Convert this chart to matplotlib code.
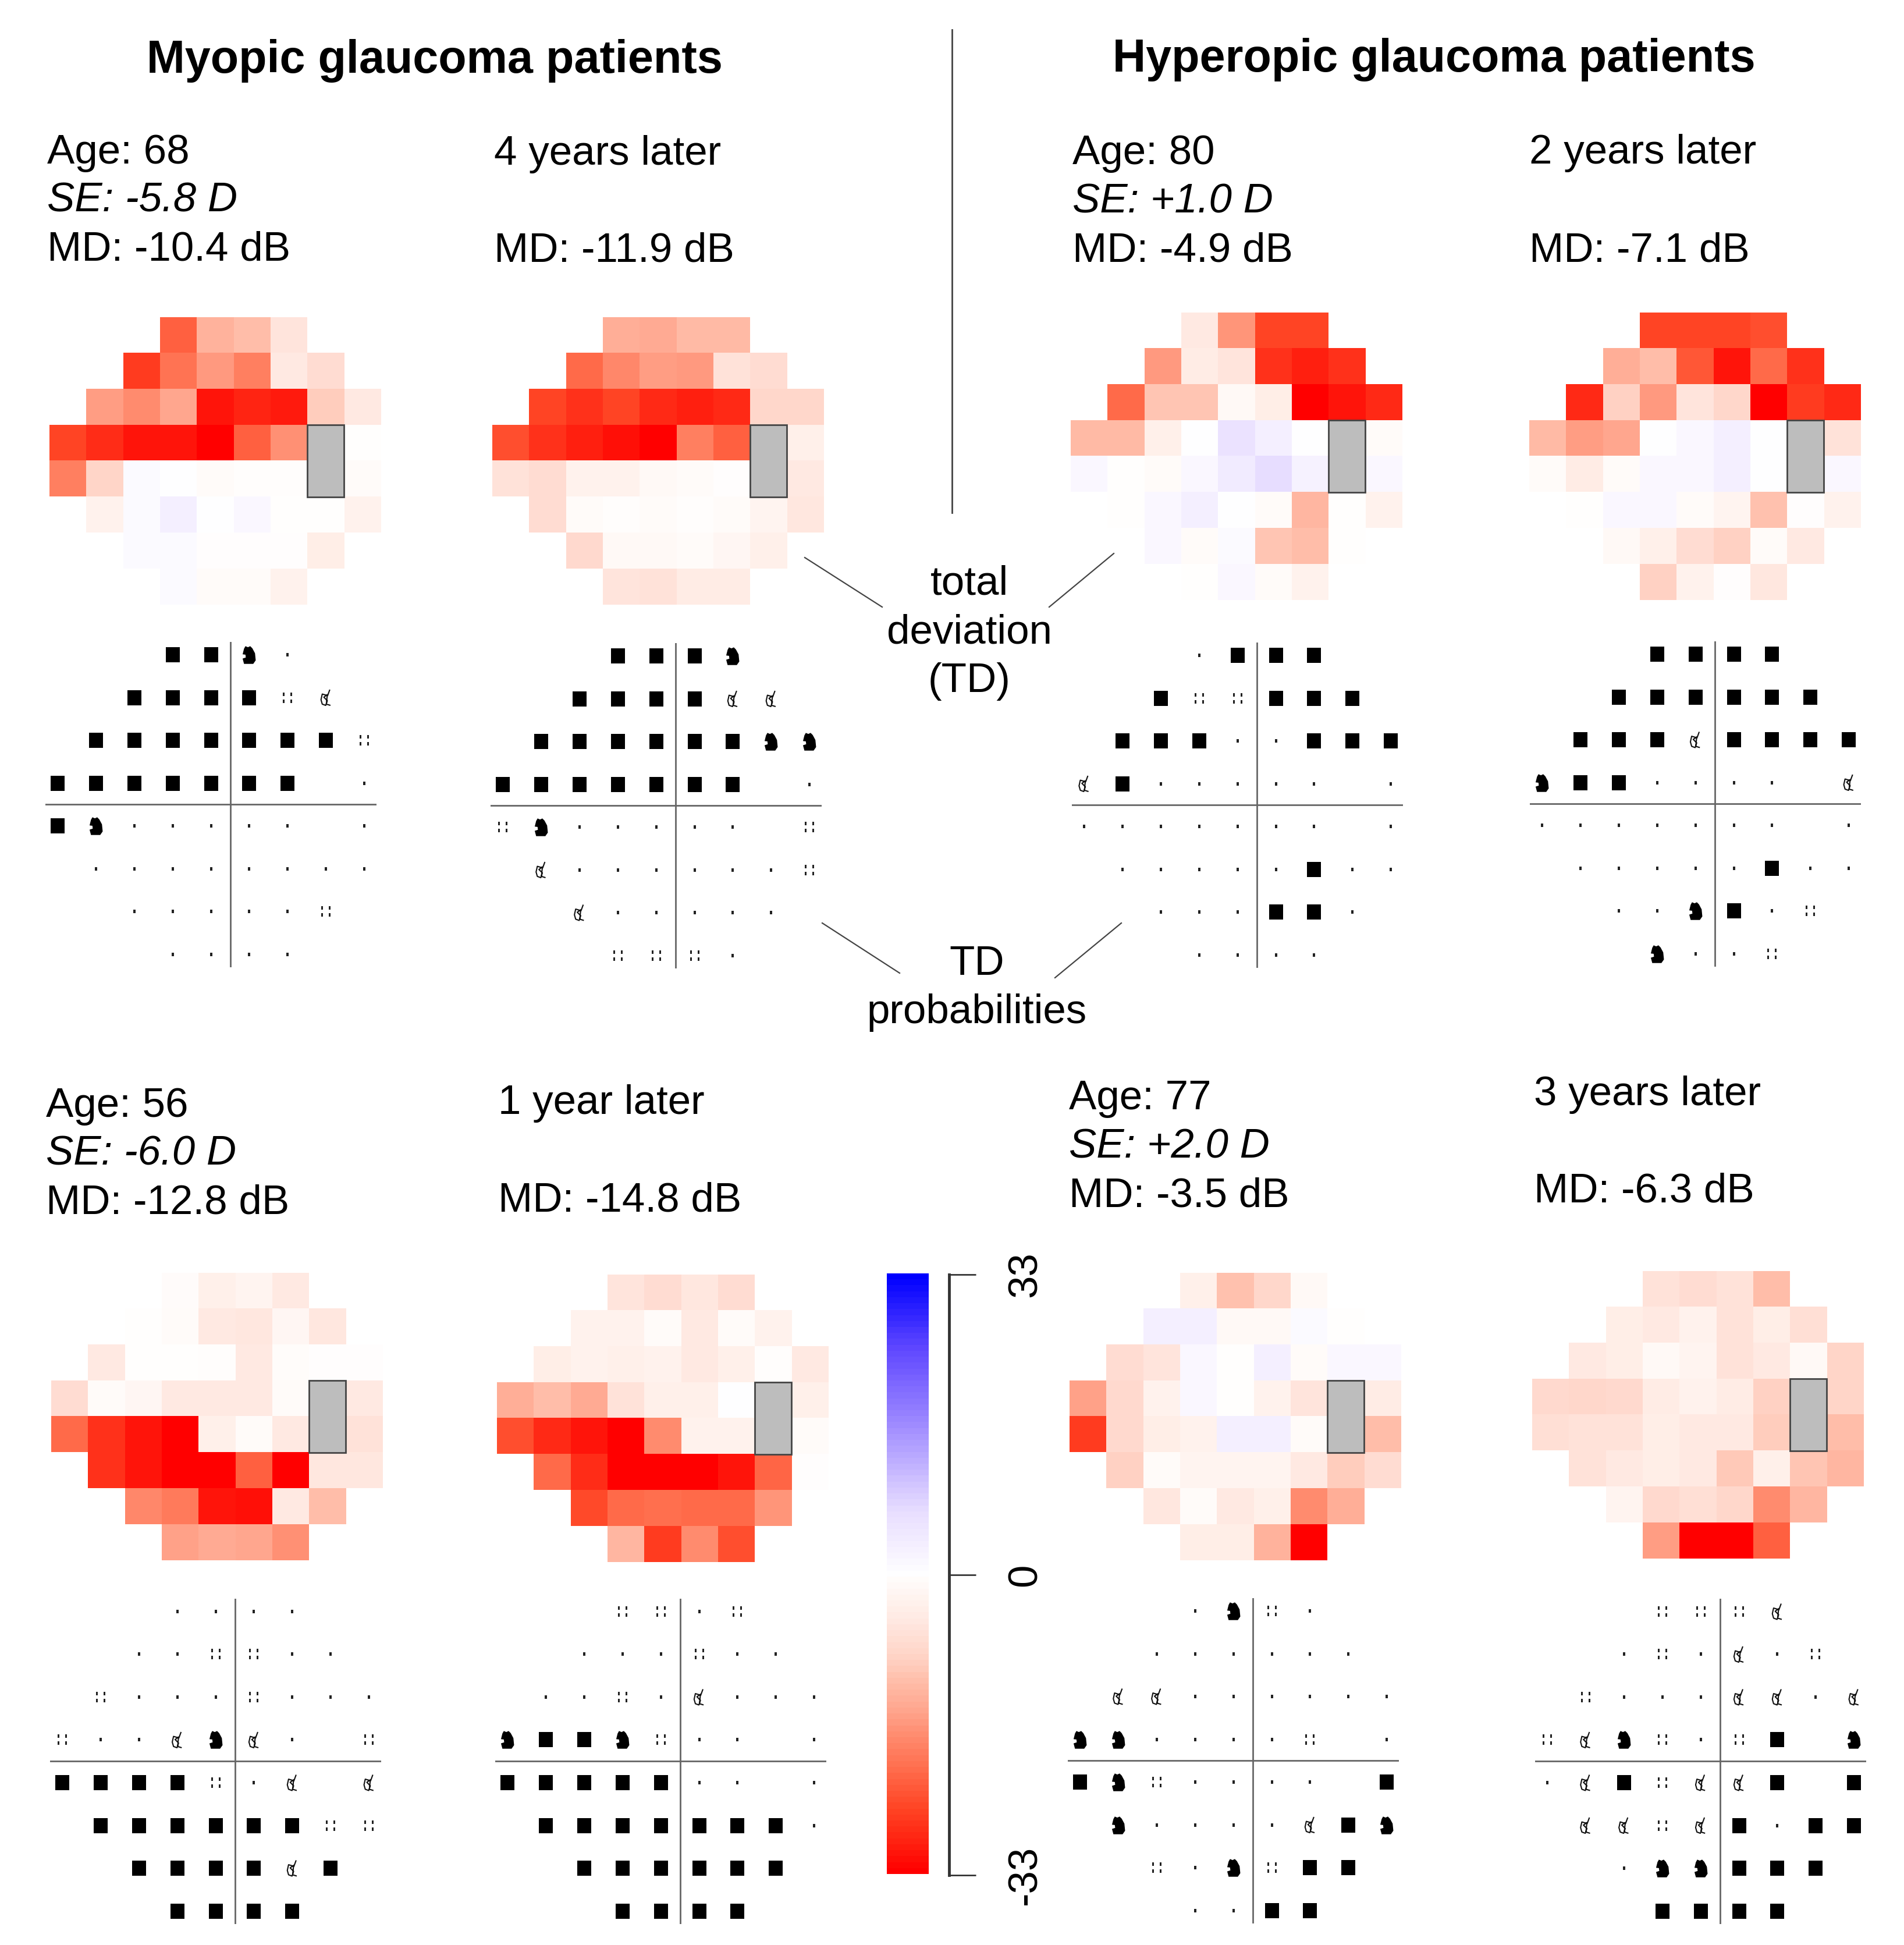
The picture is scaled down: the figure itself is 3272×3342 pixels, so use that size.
import numpy as np
import matplotlib
matplotlib.use("Agg")
import matplotlib.pyplot as plt
from matplotlib.colors import LinearSegmentedColormap
from matplotlib.lines import Line2D
from matplotlib.patches import Rectangle
from matplotlib.path import Path

plt.rcParams["font.family"] = ["Liberation Sans", "DejaVu Sans"]

W, H = 3272, 3342

# which columns of the 24-2 grid exist on each row
row_cols = [
    [3, 4, 5, 6],
    [2, 3, 4, 5, 6, 7],
    [1, 2, 3, 4, 5, 6, 7, 8],
    [0, 1, 2, 3, 4, 5, 6, 8],
    [0, 1, 2, 3, 4, 5, 6, 8],
    [1, 2, 3, 4, 5, 6, 7, 8],
    [2, 3, 4, 5, 6, 7],
    [3, 4, 5, 6],
]

# total deviation (dB)
td_a1 = [[-23, -13.5, -12, -6],
         [-27, -21, -16.5, -19.5, -5, -7.5],
         [-16, -18, -15, -31, -29.5, -30.5, -10, -5],
         [-26, -28.5, -31, -31, -33, -23, -17.5, -0.2],
         [-19.5, -9, 1, 0, -1, -0.5, -0.5, -1],
         [-3, 1, 3, 0, 1.5, -0.2, -0.2, -3],
         [1, 1, -0.3, -0.3, -0.3, -4],
         [1, -1, -1, -3]]
td_a2 = [[-14, -14.5, -12.5, -12.5],
         [-22, -18.5, -16, -16.5, -6.5, -7.5],
         [-26, -28, -26, -29, -30, -29, -8.5, -8.5],
         [-25, -28, -30, -31.5, -33, -19.5, -23, -3.5],
         [-6.5, -7.5, -3, -3, -1.5, -1, -0.3, -5],
         [-7.5, -1, -0.5, -1, -0.5, -1, -2.5, -5.5],
         [-8, -1.5, -1.5, -1, -2, -3.5],
         [-6, -6.5, -4.5, -4.5]]
td_b1 = [[-5, -17, -26, -26],
         [-16.5, -4.5, -6, -28, -30, -28],
         [-22, -11, -11, -1.5, -4, -33, -31, -29],
         [-12.5, -12.5, -3.5, 0, 6, 3, 0, -1],
         [1.5, -0.2, -1, 1.5, 4, 7, 2.5, 1.5],
         [-0.2, 1.5, 3, 0, -1, -13, -0.2, -3],
         [1.5, -1, 1, -11, -12, -0.2],
         [-0.2, 1.5, -1, -3]]
td_b2 = [[-26, -26, -26, -25],
         [-14, -12, -24, -31, -22, -28],
         [-29, -9.5, -16.5, -6, -8.5, -33, -27, -29],
         [-12.5, -16, -15, 0, 1.5, 3, 0, -6.5],
         [-1, -4.5, -1, 1.5, 1.5, 3, 0, 1.5],
         [-0.2, 1.5, 1.5, -1, -2.5, -11.5, -0.3, -3],
         [-1.5, -3.5, -7.5, -9.5, -1, -5],
         [-9.5, -3, -0.3, -5.5]]
td_c1 = [[-0.8, -3.5, -2.5, -5],
         [-0.2, -1, -5, -5.5, -2, -5.5],
         [-5, -0.2, -0.2, -0.5, -5, -0.7, -0.3, -0.3],
         [-7.5, -1, -2, -5, -5, -5, -1, -5],
         [-22, -28, -31, -33, -3.5, -1, -5, -6.5],
         [-28, -31, -33, -33, -23, -33, -5.5, -5.5],
         [-18.5, -20, -31, -31.5, -5, -12],
         [-15.5, -14.5, -15, -17.5]]
td_c2 = [[-6, -7.5, -5.5, -7.5],
         [-3, -3, -1, -5, -1, -3],
         [-4, -3, -3.5, -3, -5, -3.5, -0.4, -5],
         [-14, -12, -14.5, -6.5, -3.5, -3.5, 0, -3.5],
         [-25, -29, -31, -33, -18, -3, -3, -1],
         [-22, -28.5, -33, -33, -33, -31, -22.5, -0.3],
         [-25.5, -22, -21.5, -22, -22, -17],
         [-13, -27, -18, -25]]
td_d1 = [[-3.5, -11.5, -8.5, -1.5],
         [3, 3, -1.5, -1.5, 1, -0.2],
         [-7.5, -6, 1.5, -0.2, 3, -1, 1.5, 1.5],
         [-15.5, -8, -3, 1.5, -0.2, -3, -6, -4.5],
         [-27, -8, -4, -3, 3, 3, -1, -12],
         [-9.5, -1, -2.5, -2.5, -2.5, -5, -10, -7.5],
         [-5.5, -1, -5, -3.5, -18, -14],
         [-4, -4, -13.5, -33]]
td_d2 = [[-6.5, -7.5, -6.5, -12],
         [-4, -5, -3, -6.5, -4, -7],
         [-5, -4, -1.5, -2.5, -6.5, -5, -1.5, -9],
         [-8, -8.5, -8, -4.5, -3, -4.5, -9.5, -9],
         [-7, -6.5, -6.5, -4, -5, -5, -10, -12],
         [-6.5, -5, -4, -5, -10.5, -3.5, -11, -13],
         [-2.5, -8, -7, -8.5, -18, -13],
         [-16, -33, -33, -23]]

# probability symbols: 0 dot, 1 four dots, 2 swirl, 3 blob, 4 square
pr_a1 = [[4, 4, 3, 0],
         [4, 4, 4, 4, 1, 2],
         [4, 4, 4, 4, 4, 4, 4, 1],
         [4, 4, 4, 4, 4, 4, 4, 0],
         [4, 3, 0, 0, 0, 0, 0, 0],
         [0, 0, 0, 0, 0, 0, 0, 0],
         [0, 0, 0, 0, 0, 1],
         [0, 0, 0, 0]]
pr_a2 = [[4, 4, 4, 3],
         [4, 4, 4, 4, 2, 2],
         [4, 4, 4, 4, 4, 4, 3, 3],
         [4, 4, 4, 4, 4, 4, 4, 0],
         [1, 3, 0, 0, 0, 0, 0, 1],
         [2, 0, 0, 0, 0, 0, 0, 1],
         [2, 0, 0, 0, 0, 0],
         [1, 1, 1, 0]]
pr_b1 = [[0, 4, 4, 4],
         [4, 1, 1, 4, 4, 4],
         [4, 4, 4, 0, 0, 4, 4, 4],
         [2, 4, 0, 0, 0, 0, 0, 0],
         [0, 0, 0, 0, 0, 0, 0, 0],
         [0, 0, 0, 0, 0, 4, 0, 0],
         [0, 0, 0, 4, 4, 0],
         [0, 0, 0, 0]]
pr_b2 = [[4, 4, 4, 4],
         [4, 4, 4, 4, 4, 4],
         [4, 4, 4, 2, 4, 4, 4, 4],
         [3, 4, 4, 0, 0, 0, 0, 2],
         [0, 0, 0, 0, 0, 0, 0, 0],
         [0, 0, 0, 0, 0, 4, 0, 0],
         [0, 0, 3, 4, 0, 1],
         [3, 0, 0, 1]]
pr_c1 = [[0, 0, 0, 0],
         [0, 0, 1, 1, 0, 0],
         [1, 0, 0, 0, 1, 0, 0, 0],
         [1, 0, 0, 2, 3, 2, 0, 1],
         [4, 4, 4, 4, 1, 0, 2, 2],
         [4, 4, 4, 4, 4, 4, 1, 1],
         [4, 4, 4, 4, 2, 4],
         [4, 4, 4, 4]]
pr_c2 = [[1, 1, 0, 1],
         [0, 0, 0, 1, 0, 0],
         [0, 0, 1, 0, 2, 0, 0, 0],
         [3, 4, 4, 3, 1, 0, 0, 0],
         [4, 4, 4, 4, 4, 0, 0, 0],
         [4, 4, 4, 4, 4, 4, 4, 0],
         [4, 4, 4, 4, 4, 4],
         [4, 4, 4, 4]]
pr_d1 = [[0, 3, 1, 0],
         [0, 0, 0, 0, 0, 0],
         [2, 2, 0, 0, 0, 0, 0, 0],
         [3, 3, 0, 0, 0, 0, 1, 0],
         [4, 3, 1, 0, 0, 0, 0, 4],
         [3, 0, 0, 0, 0, 2, 4, 3],
         [1, 0, 3, 1, 4, 4],
         [0, 0, 4, 4]]
pr_d2 = [[1, 1, 1, 2],
         [0, 1, 0, 2, 0, 1],
         [1, 0, 0, 0, 2, 2, 0, 2],
         [1, 2, 3, 1, 0, 1, 4, 3],
         [0, 2, 4, 1, 2, 2, 4, 4],
         [2, 2, 1, 2, 4, 0, 4, 4],
         [0, 3, 3, 4, 4, 4],
         [4, 4, 4, 4]]

# heat left, heat top, symbol col 0 x, symbol row 0 y (pixels of the sheet)
panels = [
    (td_a1, pr_a1, 85, 545, 99, 1125),
    (td_a2, pr_a2, 846, 545, 864, 1127),
    (td_b1, pr_b1, 1840, 537, 1863, 1126),
    (td_b2, pr_b2, 2628, 537, 2650, 1124),
    (td_c1, pr_c1, 88, 2187, 107, 2769),
    (td_c2, pr_c2, 854, 2190, 872, 2769),
    (td_d1, pr_d1, 1838, 2187, 1856, 2768),
    (td_d2, pr_d2, 2633, 2184, 2659, 2769),
]
cell_w, cell_h = 63.3, 61.8
sym_dx, sym_dy = 65.9, 73.5

# colour scale stops
stop_vals = [-33, -30, -26, -22, -18, -15, -12, -9, -6, -3, 0, 3, 7, 16.5, 25, 33]
stop_cols = ["#ff0000", "#ff2010", "#ff4525", "#ff6b4a", "#ff8c6f", "#ffa78f",
             "#ffbeaa", "#ffd5c8", "#ffe5dd", "#fff3ee", "#ffffff", "#f5f0ff",
             "#e8deff", "#a08cff", "#6048ff", "#0000ff"]
cmap = LinearSegmentedColormap.from_list(
    "td", [((v + 33) / 66, c) for v, c in zip(stop_vals, stop_cols)], N=512)

# symbol shapes
def rect(cx, cy, hw, hh):
    return [(cx - hw, cy - hh), (cx + hw, cy - hh), (cx + hw, cy + hh),
            (cx - hw, cy + hh), (cx - hw, cy - hh)]

def poly_path(polys):
    verts, codes = [], []
    for p in polys:
        verts += p
        codes += [Path.MOVETO] + [Path.LINETO] * (len(p) - 2) + [Path.CLOSEPOLY]
    return Path(verts, codes)

m_square = poly_path([rect(0, 0, 0.45, 0.5)])
m_dot = poly_path([rect(0, 0, 0.3, 0.5)])
m_four = poly_path([rect(sx, sy, 0.1, 0.15) for sx in (-0.38, 0.38) for sy in (-0.35, 0.35)])
m_blob = poly_path([[(-0.3, 0.36), (-0.22, 0.5), (-0.08, 0.44), (0.05, 0.5), (0.17, 0.38),
                     (0.32, 0.1), (0.36, -0.3), (0.22, -0.5), (-0.3, -0.5), (-0.38, -0.2),
                     (-0.2, -0.14), (-0.22, 0.02), (-0.38, 0.04), (-0.3, 0.36)]])
m_swirl = Path([(0.24, 0.5), (0.1, 0.12), (-0.24, 0.22), (-0.32, -0.14), (-0.24, -0.42),
                (-0.02, -0.5), (0.08, -0.2), (-0.14, 0.02), (0.08, 0.18), (0.02, -0.42), (0.28, -0.5)])

symbol_styles = {
    0: dict(marker=m_dot, s=13, c="#222222", linewidths=0),
    1: dict(marker=m_four, s=150, c="#222222", linewidths=0),
    2: dict(marker=m_swirl, s=380, facecolors="none", edgecolors="#111111", linewidths=1.5),
    3: dict(marker=m_blob, s=480, c="black", linewidths=0),
    4: dict(marker=m_square, s=350, c="black", linewidths=0),
}

fig = plt.figure(figsize=(W / 100, H / 100), dpi=100, facecolor="white")


def axes_px(left, top, right, bottom):
    ax = fig.add_axes([left / W, 1 - bottom / H, (right - left) / W, (bottom - top) / H])
    return ax


def draw_heat(values, left, top):
    grid = np.full((8, 9), np.nan)
    for r, cols in enumerate(row_cols):
        grid[r, cols] = values[r]
    ax = axes_px(left, top, left + 9 * cell_w, top + 8 * cell_h)
    ax.imshow(grid, cmap=cmap, vmin=-33, vmax=33, aspect="auto", interpolation="nearest")
    # blind spot
    ax.add_patch(Rectangle((6.5, 2.5), 1, 2, fc="#bdbdbd", ec="#444444", lw=2))
    ax.axis("off")


def draw_symbols(codes, x0, y0):
    ax = axes_px(x0 - 0.32 * sym_dx, y0 - 0.3 * sym_dy, x0 + 8.32 * sym_dx, y0 + 7.3 * sym_dy)
    ax.set_xlim(-0.32, 8.32)
    ax.set_ylim(7.3, -0.3)
    ax.axvline(4.5, color="#666666", lw=2)
    ax.axhline(3.5, color="#666666", lw=2)
    xs = [c for cols in row_cols for c in cols]
    ys = [r for r, cols in enumerate(row_cols) for _ in cols]
    vals = [v for row in codes for v in row]
    xs, ys, vals = np.array(xs), np.array(ys), np.array(vals)
    for code, style in symbol_styles.items():
        ax.scatter(xs[vals == code], ys[vals == code], zorder=3, **style)
    ax.axis("off")


for td, pr, hx, hy, sx, sy in panels:
    draw_heat(td, hx, hy)
    draw_symbols(pr, sx, sy)


def txt(x, y, s, **kw):
    kw.setdefault("fontsize", 51)
    kw.setdefault("va", "center")
    fig.text(x / W, 1 - y / H, s, **kw)


txt(747, 104, "Myopic glaucoma patients", ha="center", fontweight="bold", fontsize=57)
txt(2464, 102, "Hyperopic glaucoma patients", ha="center", fontweight="bold", fontsize=57)

info_left = [
    (81, [263, 346, 429], "Age: 68", "SE: -5.8 D", "MD: -10.4 dB"),
    (1843, [264, 347, 431], "Age: 80", "SE: +1.0 D", "MD: -4.9 dB"),
    (79, [1901, 1984, 2067], "Age: 56", "SE: -6.0 D", "MD: -12.8 dB"),
    (1837, [1888, 1971, 2055], "Age: 77", "SE: +2.0 D", "MD: -3.5 dB"),
]
for x, ys, age, se, md in info_left:
    txt(x, ys[0], age)
    txt(x, ys[1], se, style="italic")
    txt(x, ys[2], md)

info_right = [
    (849, 265, 432, "4 years later", "MD: -11.9 dB"),
    (2628, 263, 431, "2 years later", "MD: -7.1 dB"),
    (856, 1896, 2063, "1 year later", "MD: -14.8 dB"),
    (2636, 1881, 2048, "3 years later", "MD: -6.3 dB"),
]
for x, y1, y2, later, md in info_right:
    txt(x, y1, later)
    txt(x, y2, md)

for y, s in zip([1004, 1087, 1171], ["total", "deviation", "(TD)"]):
    txt(1666, y, s, ha="center")
for y, s in zip([1657, 1740], ["TD", "probabilities"]):
    txt(1679, y, s, ha="center")

# separators and pointer lines
sheet_lines = [
    ((1640, 1640), (51, 881), 2.0),
    ((1387, 1520), (958, 1043), 1.6),
    ((1918, 1807), (951, 1043), 1.6),
    ((1417, 1550), (1586, 1672), 1.6),
    ((1931, 1817), (1586, 1680), 1.6),
]
for xs, ys, lw in sheet_lines:
    xs = (xs[0] - 4, xs[1] - 4)
    fig.add_artist(Line2D([x / W for x in xs], [1 - y / H for y in ys],
                          color="#444444", lw=lw, transform=fig.transFigure))

# colour bar
cb_levels = np.linspace(-33, 33, 101).reshape(-1, 1)
cax = axes_px(1524, 2188, 1596, 3220)
cax.imshow(cb_levels, cmap=cmap, vmin=-33, vmax=33, aspect="auto", origin="lower",
           extent=[0, 1, -33, 33])
cax.axis("off")

sax = axes_px(1631, 2190, 1677, 3222)
sax.set_ylim(-33, 33)
sax.set_xticks([])
sax.set_yticks([-33, 0, 33])
sax.set_yticklabels(["-33", "0", "33"], rotation=90, va="center", fontsize=51)
sax.patch.set_visible(False)
for name in ["top", "right", "bottom"]:
    sax.spines[name].set_visible(False)
sax.spines["left"].set_linewidth(3.5)
sax.spines["left"].set_color("#333333")
sax.tick_params(axis="y", left=True, right=False, labelleft=False, labelright=True,
                direction="in", length=33, width=1.8, color="#222222", pad=38)

fig.savefig("out.png", dpi=100)
